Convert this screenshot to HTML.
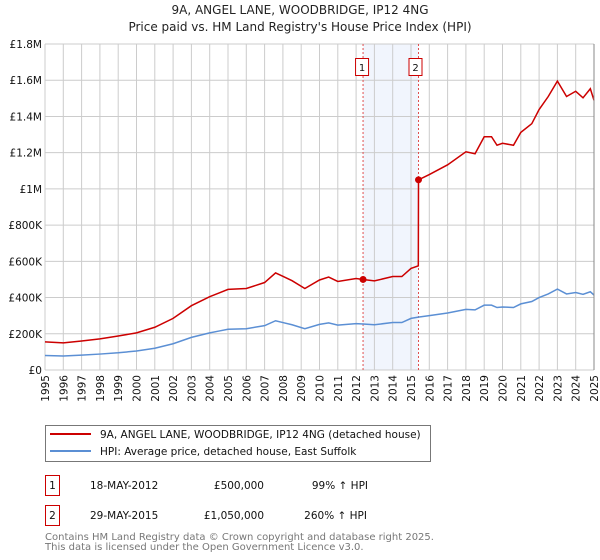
<!DOCTYPE html>
<html><head><meta charset="utf-8">
<style>
body{margin:0;background:#fff;font-family:"DejaVu Sans","Liberation Sans",sans-serif;}
svg{display:block}
</style></head>
<body>
<svg id="chart" width="600" height="560" viewBox="0 0 600 560" xmlns="http://www.w3.org/2000/svg" font-family="DejaVu Sans, Liberation Sans, sans-serif">
<text x="300" y="14" text-anchor="middle" font-size="12" fill="#222">9A, ANGEL LANE, WOODBRIDGE, IP12 4NG</text>
<text x="300" y="31" text-anchor="middle" font-size="12" fill="#222">Price paid vs. HM Land Registry's House Price Index (HPI)</text>
<g id="grid"></g>
<g id="marks"></g>
<g id="axes"></g>
<g>
<rect x="45.5" y="425.5" width="385" height="36" fill="#fff" stroke="#777"/>
<line x1="50" y1="434" x2="91" y2="434" stroke="#cc0000" stroke-width="2"/>
<text x="100" y="438" font-size="10.5" fill="#111">9A, ANGEL LANE, WOODBRIDGE, IP12 4NG (detached house)</text>
<line x1="50" y1="451" x2="91" y2="451" stroke="#5b8fd4" stroke-width="2"/>
<text x="100" y="455" font-size="10.5" fill="#111">HPI: Average price, detached house, East Suffolk</text>
</g>
<g font-size="10.5" fill="#111">
<rect x="45.5" y="475.5" width="14" height="20" fill="#fff" stroke="#cc0000"/>
<text x="52.5" y="489" text-anchor="middle">1</text>
<text x="90" y="489">18-MAY-2012</text>
<text x="264" y="489" text-anchor="end">£500,000</text>
<text x="368" y="489" text-anchor="end">99% ↑ HPI</text>
</g>
<g font-size="10.5" fill="#111">
<rect x="45.5" y="505.5" width="14" height="20" fill="#fff" stroke="#cc0000"/>
<text x="52.5" y="519" text-anchor="middle">2</text>
<text x="90" y="519">29-MAY-2015</text>
<text x="264" y="519" text-anchor="end">£1,050,000</text>
<text x="367" y="519" text-anchor="end">260% ↑ HPI</text>
</g>
<text x="45" y="540" font-size="10" fill="#777">Contains HM Land Registry data © Crown copyright and database right 2025.</text>
<text x="45" y="550" font-size="10" fill="#777">This data is licensed under the Open Government Licence v3.0.</text>
</svg>
<script>
const hpiDates=[1995.0,1996.0,1997.0,1998.0,1999.0,2000.0,2001.0,2002.0,2003.0,2004.0,2004.5,2005.0,2006.0,2007.0,2007.6,2008.0,2008.5,2009.2,2010.0,2010.5,2011.0,2012.0,2012.38,2013.0,2014.0,2014.5,2015.0,2015.4,2016.0,2017.0,2018.0,2018.5,2019.0,2019.4,2019.7,2020.0,2020.6,2021.0,2021.6,2022.0,2022.5,2023.0,2023.5,2024.0,2024.4,2024.8,2025.0];
const hpiValues=[80,77,82,88,95,105,120,145,180,205,215,225,228,245,272,262,250,228,252,260,248,256,254,250,262,262,285,292,300,315,335,332,358,358,345,348,345,365,378,400,420,447,420,428,418,432,414];
const priceDates=[1995.0,1996.0,1997.0,1998.0,1999.0,2000.0,2001.0,2002.0,2003.0,2004.0,2004.5,2005.0,2006.0,2007.0,2007.6,2008.0,2008.5,2009.2,2010.0,2010.5,2011.0,2012.0,2012.38,2013.0,2014.0,2014.5,2015.0,2015.4,2015.41,2016.0,2017.0,2018.0,2018.5,2019.0,2019.4,2019.7,2020.0,2020.6,2021.0,2021.6,2022.0,2022.5,2023.0,2023.5,2024.0,2024.4,2024.8,2025.0];
const priceValues=[155,150,160,172,188,205,236,285,355,405,425,445,450,483,536,517,493,450,497,513,489,505,500,492,516,516,561,575,1050,1079,1133,1205,1194,1288,1288,1241,1252,1241,1312,1360,1438,1510,1595,1510,1539,1503,1553,1489];
const saleDates=[2012.38,2015.41];
const saleValues=[500,1050];
const saleLabels=["1","2"];
const yTicks=[0,200,400,600,800,1000,1200,1400,1600,1800];
const yTickLabels=["£0","£200K","£400K","£600K","£800K","£1M","£1.2M","£1.4M","£1.6M","£1.8M"];
const xTicks=[1995,1996,1997,1998,1999,2000,2001,2002,2003,2004,2005,2006,2007,2008,2009,2010,2011,2012,2013,2014,2015,2016,2017,2018,2019,2020,2021,2022,2023,2024,2025];

const NS="http://www.w3.org/2000/svg";
const X0=45,X1=594,Y0=370,Y1=44;
const xs=v=>X0+(v-1995)/(2025-1995)*(X1-X0);
const ys=v=>Y0-(v/1800)*(Y0-Y1);
function mk(tag,attrs,parent){const e=document.createElementNS(NS,tag);for(const k in attrs)e.setAttribute(k,attrs[k]);parent.appendChild(e);return e;}
const grid=document.getElementById('grid'),marks=document.getElementById('marks'),axes=document.getElementById('axes');

const band=mk('rect',{x:xs(saleDates[0]),y:Y1,width:xs(saleDates[1])-xs(saleDates[0]),height:Y0-Y1,fill:'#eef3fc',opacity:0.8},grid);


xTicks.forEach(t=>{
 const l=mk('line',{x1:xs(t),x2:xs(t),y1:Y1,y2:Y0,stroke:'#cccccc','stroke-width':1},grid);
 
 
 const tx=mk('text',{x:0,y:0,transform:`translate(${xs(t)+4},${Y0+5}) rotate(-90)`,'text-anchor':'end','font-size':'10.5',fill:'#111'},axes);
 tx.textContent=t;
 
 
});
yTicks.forEach((t,i)=>{
 const l=mk('line',{x1:X0,x2:X1,y1:ys(t),y2:ys(t),stroke:'#cccccc','stroke-width':1},grid);
 
 
 const tx=mk('text',{x:X0-3,y:ys(t)+4,'text-anchor':'end','font-size':'10.5',fill:'#111'},axes);
 tx.textContent=yTickLabels[i];
 
 
});
saleDates.forEach((d,i)=>{
 const l=mk('line',{x1:xs(d),x2:xs(d),y1:Y1,y2:Y0,stroke:'#e05050','stroke-width':1,'stroke-dasharray':'2,2'},grid);
 
 
 const r=mk('rect',{x:xs(d)-7.5+(i?-2:0),y:58.5,width:13,height:17,fill:'#fff',stroke:'#cc0000'},axes);
 
 
 const t=mk('text',{x:xs(d)-1+(i?-2:0),y:71,'text-anchor':'middle','font-size':'10',fill:'#111'},axes);
 t.textContent=saleLabels[i];
 
 
});
const hp=mk('polyline',{points:hpiDates.map((d,i)=>xs(d)+','+ys(hpiValues[i])).join(' '),fill:'none',stroke:'#5b8fd4','stroke-width':1.5},marks);


const pp=mk('polyline',{points:priceDates.map((d,i)=>xs(d)+','+ys(priceValues[i])).join(' '),fill:'none',stroke:'#cc0000','stroke-width':1.5},marks);


saleDates.forEach((d,i)=>{
 const c=mk('circle',{cx:xs(d),cy:ys(saleValues[i]),r:3.5,fill:'#cc0000'},marks);
 
 
});
const ax=mk('line',{x1:X1,x2:X1,y1:Y1,y2:Y0,stroke:'#888','stroke-width':1},axes);


</script>
</body></html>
